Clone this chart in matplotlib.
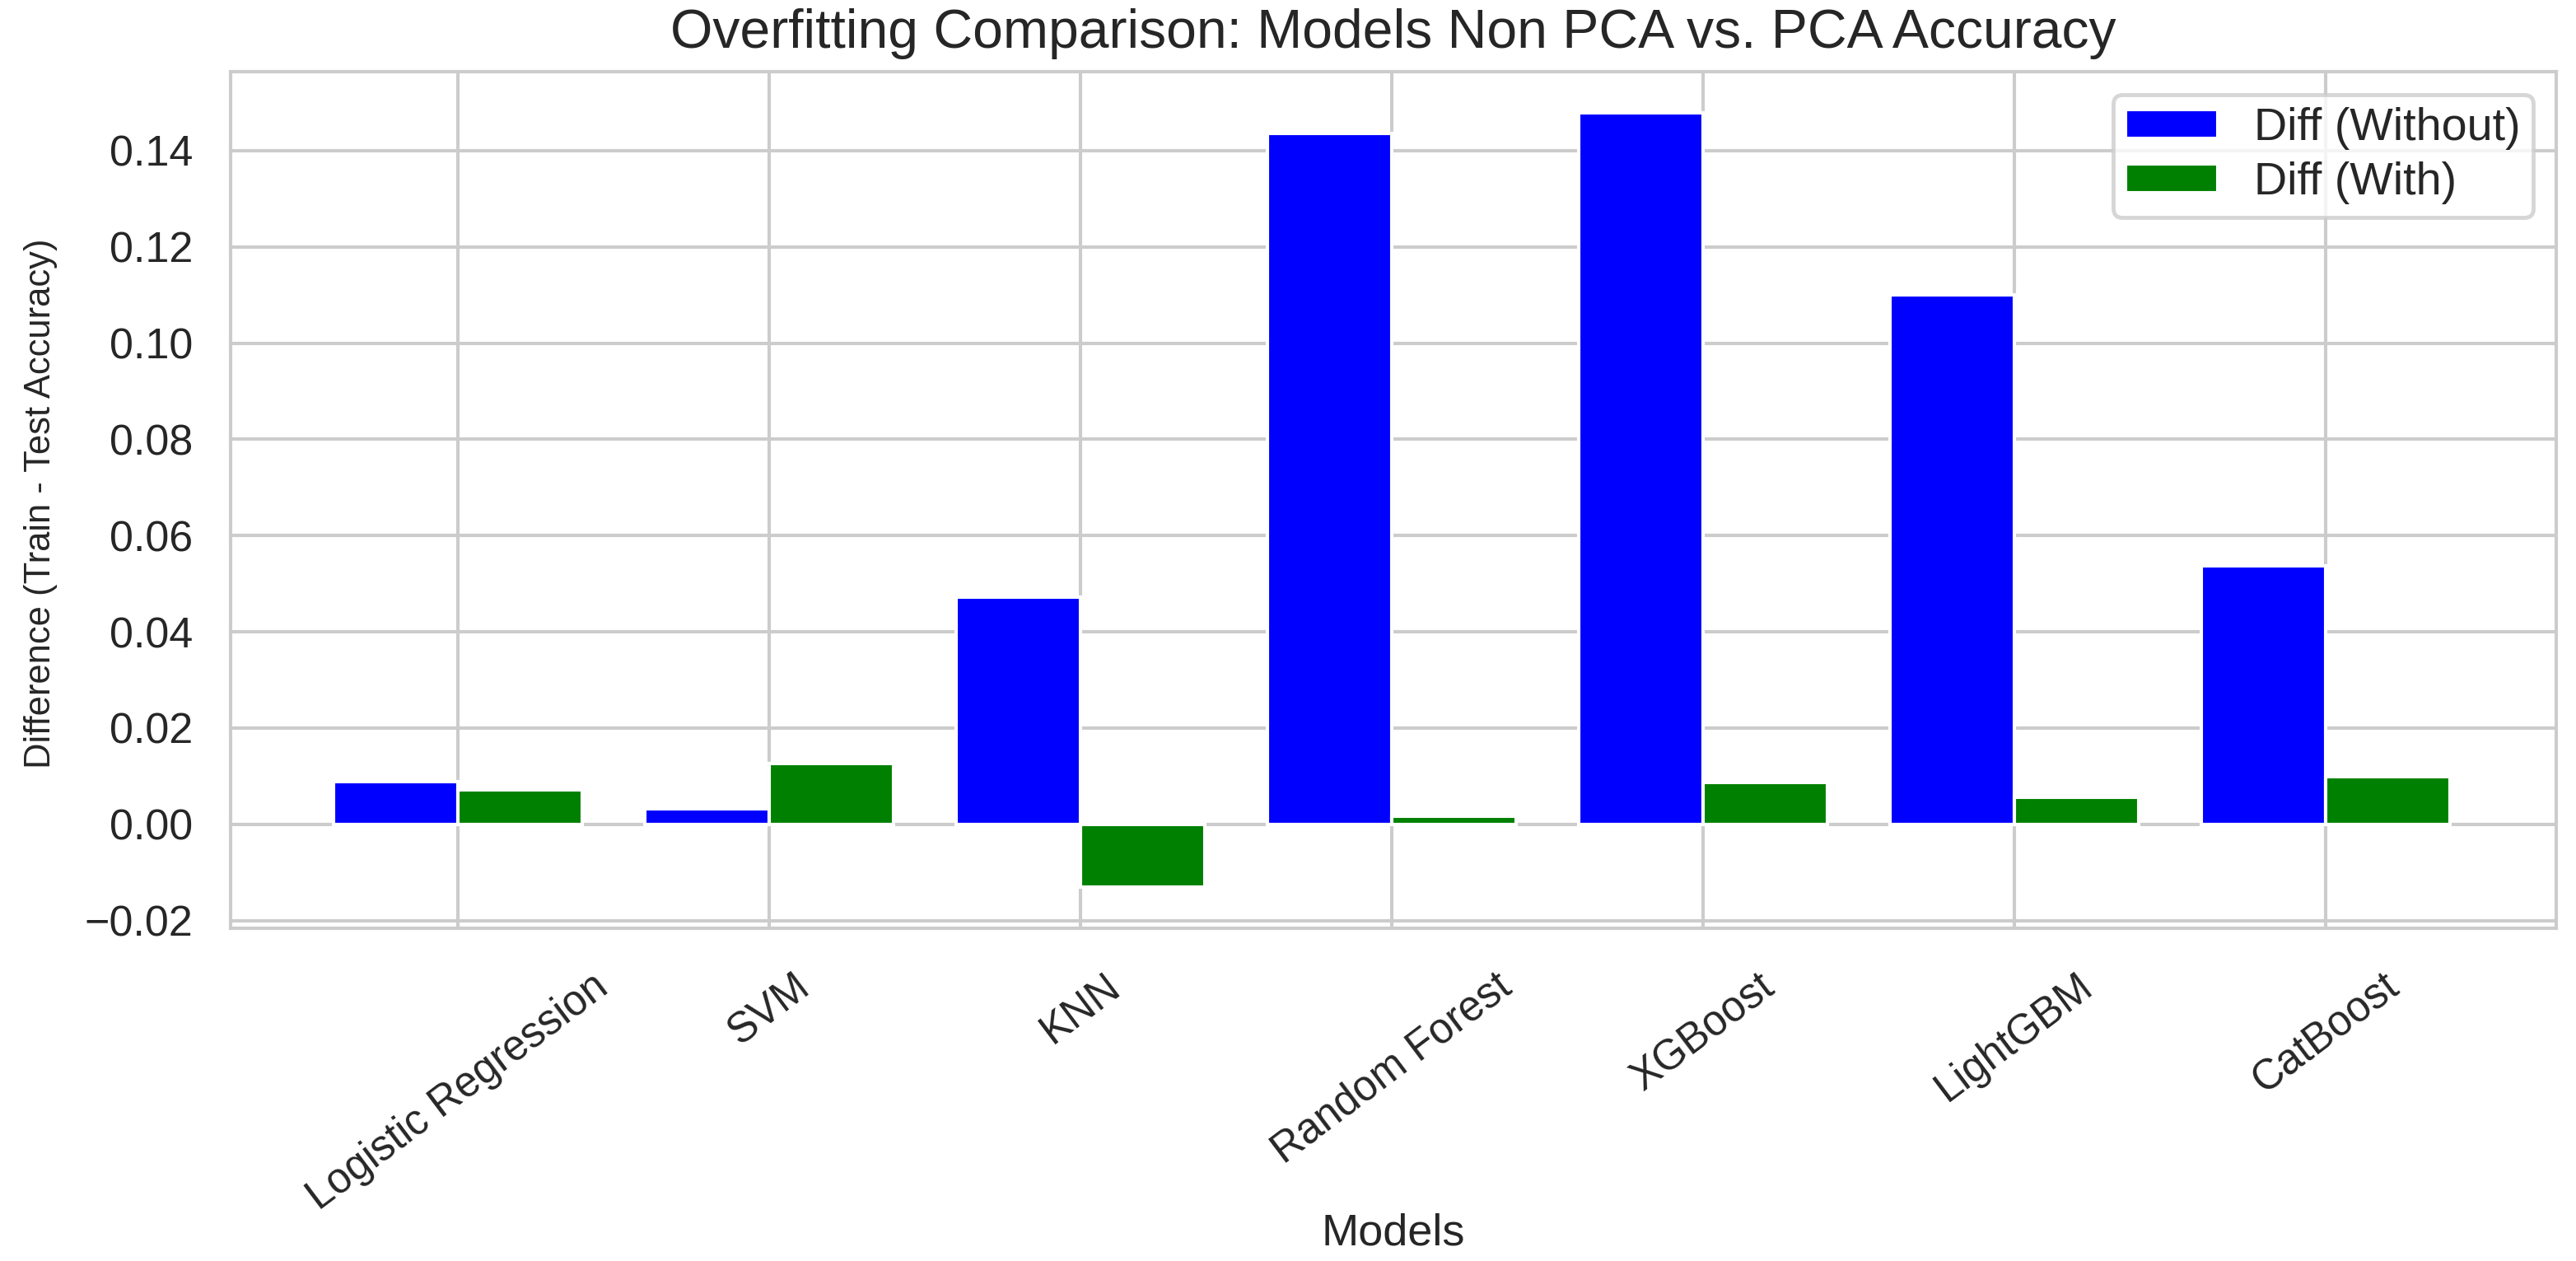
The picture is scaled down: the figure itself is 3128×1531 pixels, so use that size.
import matplotlib
matplotlib.use("Agg")
import matplotlib.pyplot as plt
import seaborn as sns
import numpy as np
from matplotlib import font_manager

# ---- data ----
models = ["Logistic Regression", "SVM", "KNN", "Random Forest", "XGBoost", "LightGBM", "CatBoost"]
diff_without = [0.0088, 0.0033, 0.0472, 0.1435, 0.1479, 0.1101, 0.0537]
diff_with = [0.0071, 0.0126, -0.0131, 0.0016, 0.0087, 0.0056, 0.0099]
series_labels = ["Diff (Without)", "Diff (With)"]
title = "Overfitting Comparison: Models Non PCA vs. PCA Accuracy"
xlabel = "Models"
ylabel = "Difference (Train - Test Accuracy)"

sns.set_theme(style="whitegrid")
plt.rcParams["font.family"] = ["Liberation Sans", "DejaVu Sans"]
plt.rcParams["grid.linewidth"] = 0.85
plt.rcParams["axes.linewidth"] = 0.85

names = {f.name for f in font_manager.fontManager.ttflist}
if "Liberation Sans Narrow" in names:
    ylab_family, ylab_size = ["Liberation Sans Narrow", "Liberation Sans"], 11.0
else:
    ylab_family, ylab_size = ["Liberation Sans", "DejaVu Sans"], 9.0

W, H, DPI = 3128, 1531, 348
fig = plt.figure(figsize=(W / DPI, H / DPI), dpi=DPI)
ax = fig.add_axes([280 / W, 1 - 1127 / H, 2824 / W, 1040 / H])

x = np.arange(len(models))
w = 0.4
ax.bar(x - w / 2, diff_without, w, color="blue", edgecolor="white", linewidth=0.85,
       label=series_labels[0])
ax.bar(x + w / 2, diff_with, w, color="green", edgecolor="white", linewidth=0.85,
       label=series_labels[1])

ax.set_xlim(-0.73, 6.74)
ax.set_ylim(-0.0216, 0.1564)
ax.set_xticks(x)
ax.set_xticklabels(models, rotation=37, fontsize=10.5)
ax.tick_params(axis="y", labelsize=10.8)

ax.set_title(title, fontsize=13.7)
ax.set_xlabel(xlabel, fontsize=11.2)
ax.xaxis.set_label_coords(0.5, -0.332)
ax.set_ylabel(ylabel, fontsize=ylab_size, family=ylab_family)
ax.yaxis.set_label_coords(-0.0744, 0.496)

ax.legend(loc="upper right", fontsize=11.5, labelspacing=0.25, borderpad=0.28,
          handleheight=0.6)

fig.savefig("out.png", dpi=DPI)
